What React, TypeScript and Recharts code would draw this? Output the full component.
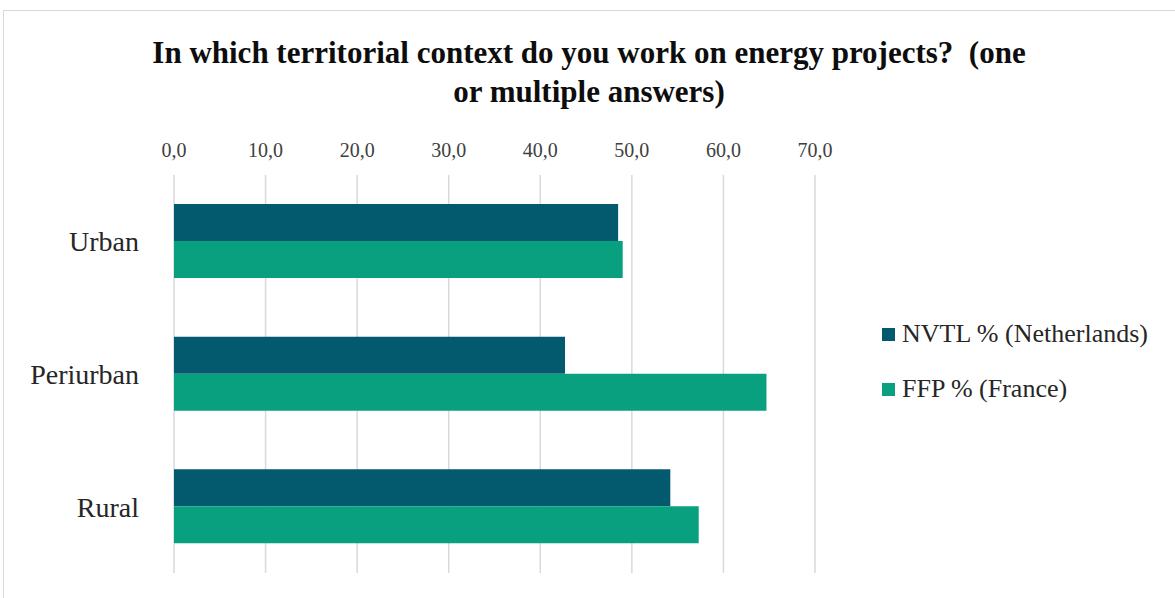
import { BarChart, Bar, XAxis, YAxis, CartesianGrid } from "recharts";

const categories = ["Urban", "Periurban", "Rural"];
const nvtlValues = [48.5, 42.7, 54.2];
const ffpValues = [49.0, 64.7, 57.3];
const xTicks = [0, 10, 20, 30, 40, 50, 60, 70];

const NVTL_COLOR = "#03596E";
const FFP_COLOR = "#08A07E";
const FONT = "'Liberation Serif', 'Times New Roman', serif";

const chartData = categories.map((c, i) => ({
  category: c,
  nvtl: nvtlValues[i],
  ffp: ffpValues[i],
}));

export default function App() {
  return (
    <div
      style={{
        position: "absolute",
        left: 0,
        top: 0,
        width: 1175,
        height: 598,
        overflow: "hidden",
        background: "#fff",
        fontFamily: FONT,
      }}
    >
      {/* chart frame */}
      <div
        style={{
          position: "absolute",
          left: 3,
          top: 10,
          width: 1200,
          height: 640,
          border: "1.5px solid #d9d9d9",
        }}
      />

      <div
        style={{
          position: "absolute",
          left: 139,
          width: 900,
          top: 33,
          textAlign: "center",
          fontWeight: 700,
          fontSize: 31,
          lineHeight: "39px",
          color: "#0d0d0d",
          whiteSpace: "pre",
        }}
      >
        {"In which territorial context do you work on energy projects?  (one\nor multiple answers)"}
      </div>

      <div style={{ position: "absolute", left: 0, top: 0 }}>
        <BarChart
          width={1175}
          height={598}
          data={chartData}
          layout="vertical"
          margin={{ top: 145, right: 360, bottom: 25, left: 0 }}
          barGap={0}
          barSize={37}
        >
          <CartesianGrid
            horizontal={false}
            stroke="#d9d9d9"
            strokeWidth={1.5}
          />
          <XAxis
            type="number"
            orientation="top"
            domain={[0, 70]}
            ticks={xTicks}
            height={30}
            axisLine={false}
            tickLine={false}
            tickSize={0}
            tickMargin={18}
            tickFormatter={(v) => Number(v).toFixed(1).replace(".", ",")}
            tick={{ fill: "#404040", fontSize: 20, fontFamily: FONT }}
          />
          <YAxis
            type="category"
            dataKey="category"
            width={174}
            axisLine={false}
            tickLine={false}
            tickSize={0}
            tickMargin={35}
            tick={{ fill: "#262626", fontSize: 28, fontFamily: FONT }}
          />
          <Bar
            dataKey="nvtl"
            fill={NVTL_COLOR}
            isAnimationActive={false}
          />
          <Bar
            dataKey="ffp"
            fill={FFP_COLOR}
            isAnimationActive={false}
          />
        </BarChart>
      </div>

      {/* legend */}
      <div
        style={{
          position: "absolute",
          left: 882,
          top: 319,
          fontSize: 26,
          color: "#262626",
          lineHeight: "30px",
        }}
      >
        {[
          { label: "NVTL % (Netherlands)", color: NVTL_COLOR },
          { label: "FFP % (France)", color: FFP_COLOR },
        ].map((item, i) => (
          <div
            key={item.label}
            style={{
              display: "flex",
              alignItems: "center",
              marginTop: i === 0 ? 0 : 25,
            }}
          >
            <span
              style={{
                display: "inline-block",
                width: 13,
                height: 13,
                background: item.color,
                marginRight: 7,
              }}
            />
            <span>{item.label}</span>
          </div>
        ))}
      </div>
    </div>
  );
}
